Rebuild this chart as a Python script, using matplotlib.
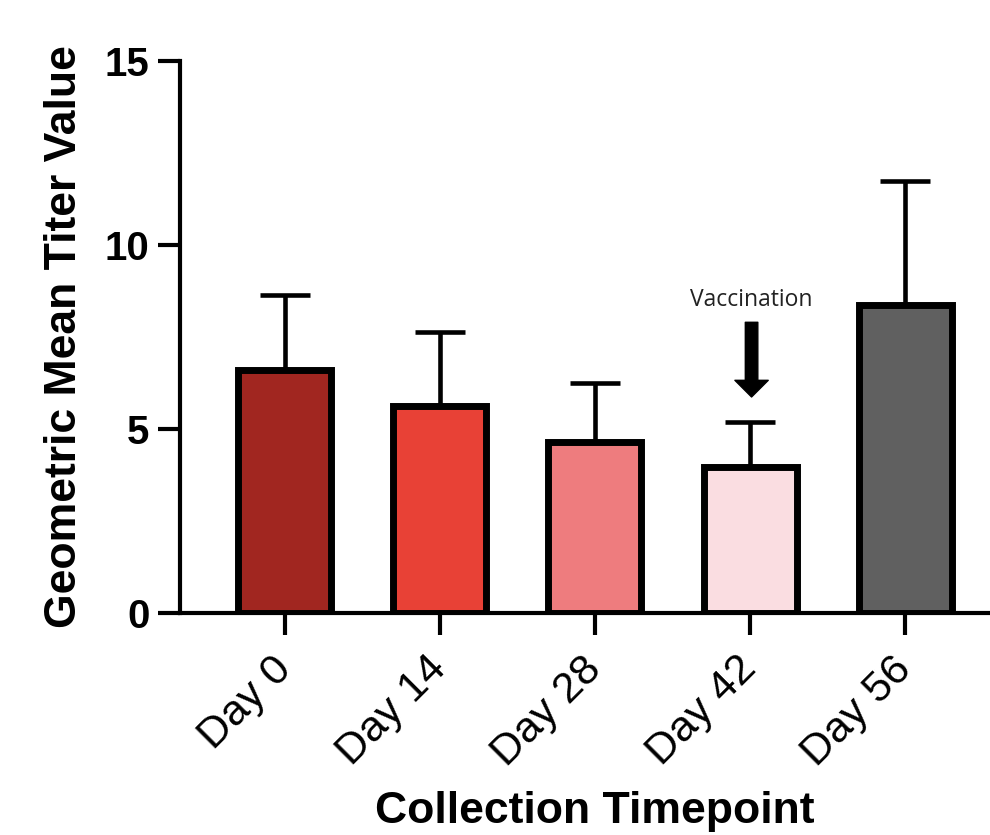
import numpy as np
import matplotlib
matplotlib.use("Agg")
import matplotlib.pyplot as plt

# data
days = ["Day 0", "Day 14", "Day 28", "Day 42", "Day 56"]
gmt = [6.6, 5.62, 4.66, 3.98, 8.37]
err_upper = [2.04, 2.02, 1.59, 1.21, 3.38]
colors = ["#A12620", "#E84136", "#EE7C7E", "#FADDE1", "#606060"]

plt.rcParams['font.family'] = ['Liberation Sans', 'DejaVu Sans']

fig = plt.figure(figsize=(9.9, 8.35), dpi=100)
ax = fig.add_axes([0.1818, 0.2659, 0.8182, 0.661])

x = np.arange(len(days))
ax.bar(x, gmt, width=0.6, color=colors, edgecolor="black", linewidth=5, zorder=3)
ax.errorbar(x, gmt, yerr=[np.zeros(len(gmt)), err_upper], fmt="none",
            ecolor="black", elinewidth=3.3, capsize=18, capthick=3.3, zorder=2)

ax.set_xlim(-0.677, 4.548)
ax.set_ylim(0, 15)
ax.set_yticks([0, 5, 10, 15])

for s in ["top", "right"]:
    ax.spines[s].set_visible(False)
for s in ["left", "bottom"]:
    ax.spines[s].set_linewidth(3)

ax.tick_params(axis="both", direction="out", width=3, length=16)
ax.tick_params(axis="y", labelsize=29, pad=6)
ax.tick_params(axis="x", labelsize=31, pad=20)
for lbl in ax.get_yticklabels():
    lbl.set_fontweight("bold")

ax.set_xticks(x)
ax.set_xticklabels(days, rotation=45, ha="right", va="center", rotation_mode="anchor")

ax.set_ylabel("Geometric Mean Titer Value", fontsize=32, fontweight="bold", labelpad=14)
ax.set_xlabel("Collection Timepoint", fontsize=32, fontweight="bold")
ax.xaxis.set_label_coords(0.512, -0.322)

ax.annotate("", xy=(3.01, 5.87), xytext=(3.01, 7.9),
            arrowprops=dict(facecolor="black", edgecolor="black",
                            width=9, headwidth=24, headlength=12))
ax.text(3.01, 8.5, "Vaccination", ha="center", va="center",
        fontsize=16.5, color="#222222", family=["Open Sans", "DejaVu Sans"])

fig.savefig("out.png", dpi=100)
